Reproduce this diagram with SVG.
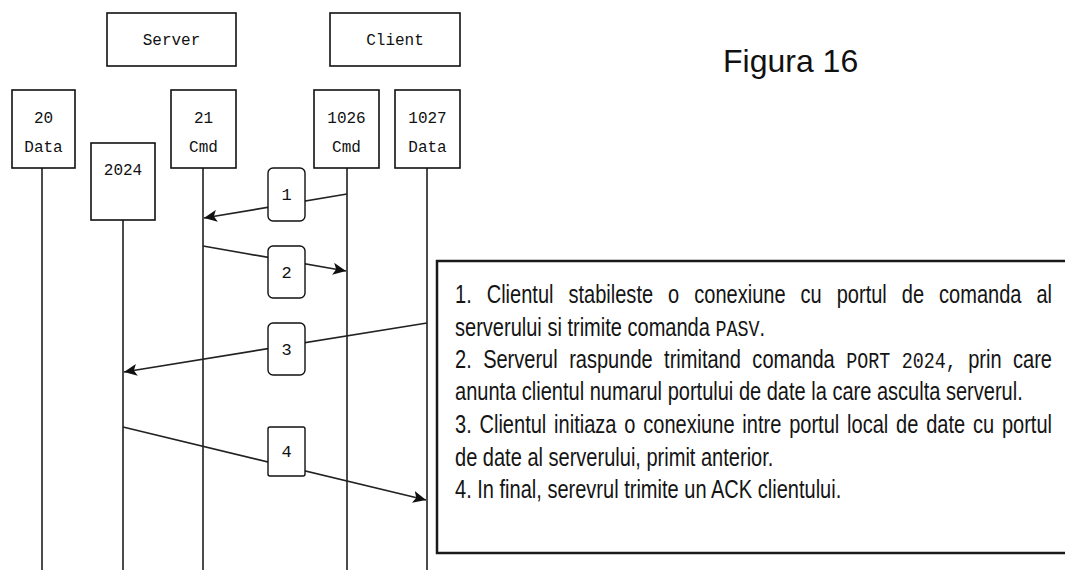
<svg xmlns="http://www.w3.org/2000/svg" width="1065" height="570" viewBox="0 0 1065 570">
  <style>
    .box { fill: #fff; stroke: #111; stroke-width: 1.6; }
    .tag { fill: #fff; stroke: #111; stroke-width: 1.4; }
    .life { stroke: #111; stroke-width: 1.5; fill: none; }
    .msg { stroke: #222; stroke-width: 1.7; fill: none; marker-end: url(#head); }
    .lbl { font-family: "Liberation Mono", "DejaVu Sans Mono", monospace; font-size: 16px; fill: #111; text-anchor: middle; }
    .num { font-family: "Liberation Mono", "DejaVu Sans Mono", monospace; font-size: 17px; fill: #111; text-anchor: middle; }
    .body { font-family: "Liberation Sans", Arial, sans-serif; font-size: 25px; fill: #141414; }
    .code { font-family: "Liberation Mono", "Courier New", monospace; font-size: 22.9px; }
    .title { font-family: "Liberation Sans", Arial, sans-serif; font-size: 32px; fill: #111; }
  </style>
  <defs>
    <marker id="head" markerUnits="userSpaceOnUse" markerWidth="14" markerHeight="12" refX="13" refY="6" orient="auto">
      <path d="M0,0 L13,6 L0,12 L3,6 Z" fill="#111"/>
    </marker>
  </defs>

  <rect width="1065" height="570" fill="#fff"/>

  <!-- hosts -->
  <g id="server">
    <rect class="box" x="107" y="13" width="129" height="53"/>
    <text class="lbl" x="171.5" y="45">Server</text>
  </g>
  <g id="client">
    <rect class="box" x="330" y="13" width="130" height="53"/>
    <text class="lbl" x="395" y="45">Client</text>
  </g>

  <!-- ports with their lifelines -->
  <g id="port-20">
    <line class="life" x1="42" y1="168" x2="42" y2="570"/>
    <rect class="box" x="12" y="90" width="63" height="78"/>
    <text class="lbl" x="43.5" y="123">20</text>
    <text class="lbl" x="43.5" y="152">Data</text>
  </g>
  <g id="port-2024">
    <line class="life" x1="123" y1="220" x2="123" y2="570"/>
    <rect class="box" x="91" y="143" width="64" height="77"/>
    <text class="lbl" x="123" y="175">2024</text>
  </g>
  <g id="port-21">
    <line class="life" x1="203" y1="168" x2="203" y2="570"/>
    <rect class="box" x="171" y="90" width="65" height="78"/>
    <text class="lbl" x="203.5" y="123">21</text>
    <text class="lbl" x="203.5" y="152">Cmd</text>
  </g>
  <g id="port-1026">
    <line class="life" x1="347" y1="168" x2="347" y2="570"/>
    <rect class="box" x="314" y="90" width="65" height="78"/>
    <text class="lbl" x="346.5" y="123">1026</text>
    <text class="lbl" x="346.5" y="152">Cmd</text>
  </g>
  <g id="port-1027">
    <line class="life" x1="427" y1="168" x2="427" y2="570"/>
    <rect class="box" x="395" y="90" width="65" height="78"/>
    <text class="lbl" x="427.5" y="123">1027</text>
    <text class="lbl" x="427.5" y="152">Data</text>
  </g>

  <!-- messages -->
  <g id="connectors">
    <line class="msg" x1="347" y1="194" x2="204" y2="218"/>
    <line class="msg" x1="203" y1="246" x2="346" y2="271"/>
    <line class="msg" x1="427" y1="323" x2="124" y2="372"/>
    <line class="msg" x1="123" y1="427" x2="426" y2="500"/>
  </g>

  <!-- step tags on the messages -->
  <g id="step-1">
    <rect class="tag" x="268" y="168" width="37" height="53" rx="5"/>
    <text class="num" x="286.5" y="200">1</text>
  </g>
  <g id="step-2">
    <rect class="tag" x="268" y="246" width="37" height="52" rx="5"/>
    <text class="num" x="286.5" y="278">2</text>
  </g>
  <g id="step-3">
    <rect class="tag" x="268" y="323" width="37" height="52" rx="5"/>
    <text class="num" x="286.5" y="355">3</text>
  </g>
  <g id="step-4">
    <rect class="tag" x="268" y="427" width="37" height="49" rx="2"/>
    <text class="num" x="286.5" y="457">4</text>
  </g>

  <g id="caption">
    <text class="title" x="723" y="72">Figura 16</text>
  </g>

  <!-- explanation panel: condensed, justified paragraph -->
  <g id="notes">
    <rect x="437" y="261" width="640" height="292" fill="#fff" stroke="#1a1a1a" stroke-width="2.5"/>
    <g class="body" transform="translate(455,0) scale(0.8016,1)">
      <text y="303"><tspan x="0">1.</tspan><tspan x="39.54">Clientul</tspan><tspan x="141.58">stabileste</tspan><tspan x="265.88">o</tspan><tspan x="298.46">conexiune</tspan><tspan x="431.10">cu</tspan><tspan x="476.18">portul</tspan><tspan x="557.39">de</tspan><tspan x="603.88">comanda</tspan><tspan x="725.39">al</tspan></text>
      <text x="0" y="336">serverului si trimite comanda <tspan class="code">PASV</tspan>.</text>
      <text y="368"><tspan x="0">2.</tspan><tspan x="35.09">Serverul</tspan><tspan x="142.41">raspunde</tspan><tspan x="260.88">trimitand</tspan><tspan x="370.97">comanda</tspan><tspan class="code" x="488.03">PORT</tspan><tspan class="code" x="557.27">2024,</tspan><tspan x="640.26">prin</tspan><tspan x="696.18">care</tspan></text>
      <text x="0" y="400">anunta clientul numarul portului de date la care asculta serverul.</text>
      <text y="433"><tspan x="0">3.</tspan><tspan x="30.58">Clientul</tspan><tspan x="123.67">initiaza</tspan><tspan x="211.20">o</tspan><tspan x="234.82">conexiune</tspan><tspan x="358.50">intre</tspan><tspan x="416.86">portul</tspan><tspan x="489.11">local</tspan><tspan x="550.23">de</tspan><tspan x="587.76">date</tspan><tspan x="646.14">cu</tspan><tspan x="682.26">portul</tspan></text>
      <text x="0" y="466">de date al serverului, primit anterior.</text>
      <text x="0" y="498">4. In final, serevrul trimite un ACK clientului.</text>
    </g>
  </g>
</svg>
